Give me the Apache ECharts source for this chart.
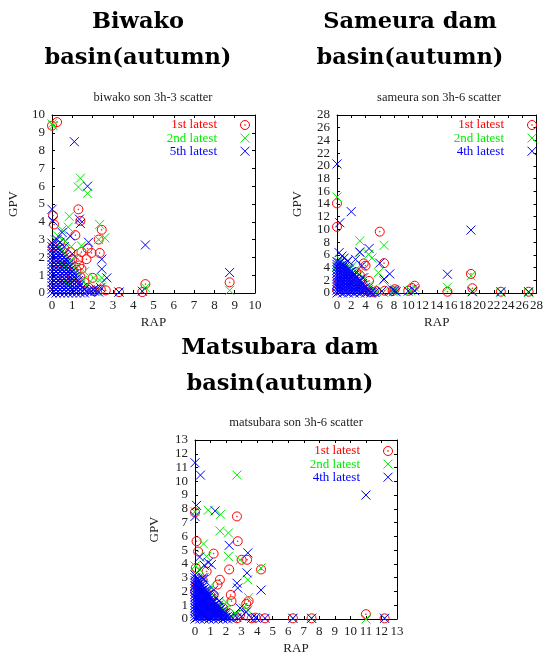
<!DOCTYPE html>
<html><head><meta charset="utf-8">
<script src="https://cdn.jsdelivr.net/npm/echarts@6/dist/echarts.min.js"></script>
<style>html,body{margin:0;padding:0;background:#fff}#c{width:546px;height:659px}</style>
</head><body><div id="c"></div><script>
// ---------------- Data (RAP, GPV) ----------------
const biwakoTitle = 'Biwako\nbasin(autumn)';
const sameuraTitle = 'Sameura dam\nbasin(autumn)';
const matsubaraTitle = 'Matsubara dam\nbasin(autumn)';
const biwakoSub = 'biwako son 3h-3 scatter';
const sameuraSub = 'sameura son 3h-6 scatter';
const matsubaraSub = 'matsubara son 3h-6 scatter';
const biwakoLegend = ['1st latest', '2nd latest', '5th latest'];
const sameuraLegend = ['1st latest', '2nd latest', '4th latest'];
const matsubaraLegend = ['1st latest', '2nd latest', '4th latest'];
const biwakoAxis = {max: 10, interval: 1};
const sameuraAxis = {max: 28, interval: 2};
const matsubaraAxis = {max: 13, interval: 1};

const biwako1st = [[0,9.4],[0.25,9.6],[0.05,4.35],[0.1,3.85],[1.3,4.7],[1.4,4.05],[1.15,3.25],[2.45,3.55],[2.3,3.0],
 [1.75,2.5],[1.95,2.25],[2.35,2.25],[1.45,2.3],[1.3,1.9],[1.7,1.9],[1.45,1.35],[1.35,1.55],[2.0,0.85],[0.9,2.3],[0.4,2.9],
 [2.65,0.15],[3.3,0.05],[4.45,0.05],[4.6,0.5],[8.75,0.6],[0.05,2.6],[0.6,2.5],[0.8,1.7],[1.0,1.9],[1.2,1.3],[1.0,1.0],
 [0.7,1.4],[0.3,2.2],[0.5,1.9],[1.6,0.6],[1.8,0.3],[2.1,0.1],[1.4,0.9],[0.2,1.5],[0.6,0.8],[0.1,0.4],[1.1,0.5],[2.4,0.2]];
const biwako2nd = [[0,9.5],[0.05,9.4],[1.4,6.45],[1.3,5.95],[1.75,5.6],[0.85,4.3],[0.8,3.7],[2.35,3.85],[2.6,3.1],[2.3,3.0],
 [0.5,3.55],[0.3,3.2],[1.45,2.65],[2.05,0.85],[2.45,0.6],[2.45,0.85],[4.6,0.3],[8.75,0.15],[3.3,0.05],[0.65,2.9],
 [0.3,2.7],[0.5,2.4],[0.7,2.1],[0.9,1.8],[1.1,1.4],[1.3,1.0],[1.5,0.7],[0.15,3.0],[0.6,1.5],[0.2,1.2],[0.4,0.6],
 [0,1.8],[1.7,0.4],[1.9,0.2],[2.2,0.1],[0.95,2.6],[1.2,2.0],[1.1,0.9],[0.8,0.5],[1.6,1.2]];
const biwako5th = [[1.1,8.5],[1.75,6.0],[0,4.7],[0.05,4.05],[1.35,4.15],[1.4,3.9],[4.6,2.7],[8.75,1.15],[1.8,2.85],
 [2.45,1.9],[2.45,1.35],[2.7,0.85],[0.5,3.4],[0.9,3.2],[0.4,2.85],[4.45,0.1],[3.3,0.05],[2.05,0.2],[0.25,3.0],
 [0.6,2.6],[1.0,2.2],[2.4,0.3],[1.95,0.1],[2.2,0.2]];
// dense cloud near the origin, read column by column: [RAP, [GPV values]]
const biwako5thCloud = [
 [0, [0,0.2,0.4,0.6,0.8,1.0,1.2,1.4,1.6,1.8,2.0,2.2,2.4,2.6,2.8]],
 [0.1, [0.1,0.3,0.5,0.7,0.9,1.1,1.3,1.5,1.7,1.9,2.1,2.3,2.5,2.7]],
 [0.2, [0,0.2,0.4,0.6,0.8,1.0,1.2,1.4,1.6,1.8,2.0,2.2,2.4,2.6]],
 [0.3, [0.1,0.3,0.5,0.7,0.9,1.1,1.3,1.5,1.7,1.9,2.1,2.3,2.5]],
 [0.4, [0,0.2,0.4,0.6,0.8,1.0,1.2,1.4,1.6,1.8,2.0,2.2]],
 [0.5, [0.1,0.3,0.5,0.7,0.9,1.1,1.3,1.5,1.7,1.9,2.1]],
 [0.6, [0,0.2,0.4,0.6,0.8,1.0,1.2,1.4,1.6,1.8,2.0]],
 [0.7, [0.1,0.3,0.5,0.7,0.9,1.1,1.3,1.5,1.7,1.85]],
 [0.8, [0,0.2,0.4,0.6,0.8,1.0,1.2,1.4,1.6]],
 [0.9, [0.1,0.3,0.5,0.7,0.9,1.1,1.3,1.5]],
 [1.0, [0,0.2,0.4,0.6,0.8,1.0,1.2]],
 [1.1, [0.1,0.3,0.5,0.7,0.9,1.05]],
 [1.2, [0,0.2,0.4,0.6,0.8]],
 [1.3, [0.1,0.3,0.5,0.7]],
 [1.4, [0,0.2,0.45]],
 [1.5, [0.1,0.3]],
 [1.6, [0,0.2]],
 [1.75, [0.1]],
 [1.9, [0.05]],
 [2.1, [0.1]],
 [2.3, [0.05]]
];

const sameura1st = [[0,14.1],[0,10.4],[6.0,9.65],[6.6,4.7],[3.75,4.65],[4.0,4.3],[4.5,1.9],[18.8,3.0],[19.0,0.75],
 [15.5,0.2],[10.9,1.15],[10.0,0.35],[8.1,0.6],[6.7,0.35],[4.8,0.2],[23.0,0.2],[26.9,0.2],[0,0.5],[2.7,3.3],[3.2,2.8],
 [5.5,0.3],[7.8,0.3],[10.5,0.8],[1.0,3.0],[2.0,2.6],[0.5,4.0],[1.6,2.0],[2.5,1.2],[3.5,0.8],[0.3,1.8],[4.2,0.5],[5.2,0.1]];
const sameura2nd = [[0,15.1],[3.2,8.2],[6.6,7.5],[4.45,6.1],[3.2,6.35],[5.8,3.2],[18.8,2.7],[15.5,0.9],[10.9,0.9],
 [0.1,4.8],[0.4,5.3],[8.1,0.6],[10.3,0.4],[6.5,2.0],[4.9,5.5],[2.5,3.5],[1.2,4.6],[26.9,0.1],[23.0,0.1],[19.0,0.3],
 [0,4.2],[0.8,4.2],[1.8,3.8],[3.0,3.0],[3.8,2.4],[4.5,1.2],[5.0,0.6],[2.2,4.3],[1.5,5.1],[5.6,0.2],[6.5,0.1],[7.9,0.2]];
const sameura4th = [[0,20.3],[0.4,11.05],[2.0,12.8],[18.8,9.9],[0.3,6.35],[1.55,5.05],[3.2,6.45],[4.5,7.0],[6.0,4.7],
 [3.5,4.3],[6.6,2.2],[7.4,3.0],[15.5,2.95],[10.9,0.35],[8.1,0.35],[10.0,0.3],[19.0,0.2],[23.0,0.2],[26.9,0.2],[7.8,0.5],
 [8.3,0.2],[1.0,5.5],[2.6,5.3],[0.7,5.8],[3.6,2.4],[6.3,0.3]];
const sameura4thCloud = [
 [0, [0,0.45,0.9,1.35,1.8,2.25,2.7,3.15,3.6,4.05,4.5,4.95]],
 [0.4, [0.2,0.65,1.1,1.55,2.0,2.45,2.9,3.35,3.8,4.25,4.7]],
 [0.8, [0,0.45,0.9,1.35,1.8,2.25,2.7,3.15,3.6,4.05,4.5]],
 [1.2, [0.2,0.65,1.1,1.55,2.0,2.45,2.9,3.35,3.8,4.2]],
 [1.6, [0,0.45,0.9,1.35,1.8,2.25,2.7,3.15,3.6,3.9]],
 [2.0, [0.2,0.65,1.1,1.55,2.0,2.45,2.9,3.35]],
 [2.4, [0,0.45,0.9,1.35,1.8,2.25,2.7,3.0]],
 [2.8, [0.2,0.65,1.1,1.55,2.0,2.5]],
 [3.2, [0,0.45,0.9,1.35,1.8,2.1]],
 [3.6, [0.2,0.65,1.1,1.5]],
 [4.0, [0,0.45,0.9]],
 [4.4, [0.2,0.5]],
 [4.8, [0,0.2]],
 [5.3, [0.1]]
];

const matsubara1st = [[0,7.75],[0.1,5.65],[0.2,4.9],[1.2,4.75],[2.7,7.45],[2.75,5.65],[2.2,3.6],[3.0,4.3],[3.35,4.3],
 [4.25,3.6],[3.45,1.3],[1.6,2.85],[1.45,2.5],[2.3,1.75],[2.35,1.3],[1.2,1.75],[0.75,3.45],[0.05,3.7],[2.7,0.05],
 [4.5,0.05],[6.3,0.05],[7.5,0.05],[11.0,0.35],[12.2,0.05],[3.65,0.05],[0.1,2.5],[0.5,2.8],[1.0,1.7],[1.4,1.1],
 [1.8,0.8],[2.2,0.4],[0,2.0],[1.0,0.8],[0.6,1.2],[3.3,1.1],[2.9,0.3],[3.9,0.1]];
const matsubara2nd = [[0,7.8],[0.85,7.9],[1.65,7.6],[2.7,10.45],[1.6,6.4],[2.15,6.25],[2.15,4.55],[2.9,4.3],[3.4,2.85],
 [4.25,3.7],[0.55,5.45],[0.75,4.55],[0,3.85],[3.45,1.55],[3.4,0.65],[11.0,0.0],[1.0,2.4],[0.9,2.1],[1.3,1.6],[2.0,1.2],
 [2.6,0.4],[0.3,3.6],[0.6,3.0],[12.2,0.05],[6.3,0.05],[7.5,0.05],[0.1,3.3],[1.9,0.6],[1.5,0.9],[2.3,0.2],[3.1,0.8],[0.4,2.5]];
const matsubara4th = [[0,11.35],[0.35,10.45],[0.1,8.25],[0,7.45],[1.3,7.85],[11.0,9.0],[0.85,4.1],[1.05,3.95],[2.2,5.35],
 [3.4,4.8],[3.35,3.35],[2.7,2.6],[2.75,2.25],[4.25,2.1],[1.55,1.3],[3.65,0.05],[4.5,0.05],[6.3,0.05],[7.5,0.05],
 [12.2,0.05],[0.3,4.5],[0.55,2.85],[3.3,0.5],[3.0,0.2],[3.9,0.1],[2.9,0.8],[0.5,3.0],[1.2,2.1],[0.6,3.9]];
const matsubara4thCloud = [
 [0, [0,0.2,0.4,0.6,0.8,1.0,1.2,1.4,1.6,1.8,2.0,2.2,2.4,2.6,2.8,3.0,3.2]],
 [0.15, [0.1,0.3,0.5,0.7,0.9,1.1,1.3,1.5,1.7,1.9,2.1,2.3,2.5,2.7,2.9]],
 [0.3, [0,0.2,0.4,0.6,0.8,1.0,1.2,1.4,1.6,1.8,2.0,2.2,2.4,2.6,2.8]],
 [0.45, [0.1,0.3,0.5,0.7,0.9,1.1,1.3,1.5,1.7,1.9,2.1,2.3,2.5]],
 [0.6, [0,0.2,0.4,0.6,0.8,1.0,1.2,1.4,1.6,1.8,2.0,2.2]],
 [0.75, [0.1,0.3,0.5,0.7,0.9,1.1,1.3,1.5,1.7,1.9,2.05]],
 [0.9, [0,0.2,0.4,0.6,0.8,1.0,1.2,1.4,1.6,1.8]],
 [1.05, [0.1,0.3,0.5,0.7,0.9,1.1,1.3,1.5]],
 [1.2, [0,0.2,0.4,0.6,0.8,1.0,1.2,1.35]],
 [1.35, [0.1,0.3,0.5,0.7,0.9,1.1]],
 [1.5, [0,0.2,0.4,0.6,0.8,1.0]],
 [1.65, [0.1,0.3,0.5,0.7]],
 [1.8, [0,0.2,0.4,0.6]],
 [1.95, [0.1,0.3,0.45]],
 [2.1, [0,0.2]],
 [2.25, [0.1]],
 [2.45, [0.05]],
 [2.7, [0.1]]
];

// ---------------- Styles ----------------
const SERIF = 'Liberation Serif';
const TITLEFONT = 'DejaVu Serif';
const RED = '#ff0000', GREEN = '#00ee00', BLUE = '#0000ff';
const RING = 'path://M0,-10A10,10 0 1,1 0,10A10,10 0 1,1 0,-10ZM0,-0.8A0.8,0.8 0 1,1 0,0.8A0.8,0.8 0 1,1 0,-0.8Z';
const CROSS = 'path://M0,0L10,10M0,10L10,0';

function flattenCloud(cloud) {
  const out = [];
  cloud.forEach(([x, ys]) => ys.forEach(y => out.push([x, y])));
  return out;
}

const grids = [
  {left: 52, top: 115, width: 203, height: 178},
  {left: 337, top: 115, width: 203, height: 178},
  {left: 195, top: 440, width: 202, height: 179}
];
const axisCfg = [biwakoAxis, sameuraAxis, matsubaraAxis];
const yNameGap = [32, 33, 34];

const xAxis = [], yAxis = [];
const labelBase = {show: true, fontFamily: SERIF, fontSize: 13, color: '#222',
  showMinLabel: true, showMaxLabel: true, hideOverlap: false};
const richT = {t: {fontFamily: SERIF, fontSize: 13, color: '#222', height: 9, lineHeight: 9}};
const extraY = [];
axisCfg.forEach((a, g) => {
  const common = {
    gridIndex: g, type: 'value', min: 0, max: a.max, interval: a.interval,
    axisLine: {onZero: false, lineStyle: {color: '#000', width: 1}},
    axisTick: {inside: true, length: 3, lineStyle: {color: '#000'}},
    splitLine: {show: false}
  };
  const xl = Object.assign({}, labelBase, {margin: 6});
  // dense axes (step 2 over 178px) alternate labels across two overlaid left axes
  const dense = a.interval === 2;
  const yl = Object.assign({}, labelBase, {margin: 7, rich: richT,
    formatter: v => (!dense || v % 4 === 0) ? '{t|' + v + '}' : ''});
  const nameStyle = {fontFamily: SERIF, fontSize: 13, color: '#222'};
  xAxis.push(Object.assign({}, common, {position: 'bottom', axisLabel: xl,
    name: 'RAP', nameLocation: 'middle', nameGap: 23, nameTextStyle: nameStyle}));
  xAxis.push(Object.assign({}, common, {position: 'top', axisLabel: {show: false}}));
  yAxis.push(Object.assign({}, common, {position: 'left', axisLabel: yl,
    name: 'GPV', nameLocation: 'middle', nameGap: yNameGap[g], nameTextStyle: nameStyle}));
  yAxis.push(Object.assign({}, common, {position: 'right', axisLabel: {show: false}}));
  if (dense) {
    extraY.push(Object.assign({}, common, {position: 'left', axisLine: {show: false}, axisTick: {show: false},
      axisLabel: Object.assign({}, labelBase, {margin: 7, rich: richT,
        formatter: v => (v % 4 === 2) ? '{t|' + v + '}' : ''})}));
  }
});
extraY.forEach(y => yAxis.push(y));

function mk(name, data, g, kind, color) {
  return {
    type: 'scatter', name: name, data: data, xAxisIndex: g * 2, yAxisIndex: g * 2,
    symbol: kind === 'ring' ? RING : CROSS, symbolSize: 9,
    clip: false, silent: true, large: false,
    itemStyle: {color: 'none', borderColor: color, borderWidth: 1, opacity: 1},
    emphasis: {disabled: true}
  };
}
const sets = [
  [biwakoLegend, [biwako1st, biwako2nd, biwako5th.concat(flattenCloud(biwako5thCloud))]],
  [sameuraLegend, [sameura1st, sameura2nd, sameura4th.concat(flattenCloud(sameura4thCloud))]],
  [matsubaraLegend, [matsubara1st, matsubara2nd, matsubara4th.concat(flattenCloud(matsubara4thCloud))]]
];
const colors = [RED, GREEN, BLUE];
const kinds = ['ring', 'cross', 'cross'];
const series = [];
sets.forEach(([names, datas], g) => {
  datas.forEach((d, i) => series.push(mk(names[i], d, g, kinds[i], colors[i])));
});

const legendPos = [{right: 294, top: 118}, {right: 7, top: 118}, {right: 151, top: 444}];
const legend = sets.map(([names], g) => Object.assign({
  orient: 'vertical', align: 'right', itemWidth: 46, itemHeight: 9, itemGap: -0.9,
  selectedMode: false, padding: 0,
  textStyle: {fontFamily: SERIF, fontSize: 13, lineHeight: 10},
  data: names.map((n, i) => ({
    name: n, icon: kinds[i] === 'ring' ? RING : CROSS,
    itemStyle: {color: 'none', borderColor: colors[i], borderWidth: 1},
    textStyle: {color: colors[i]}
  }))
}, legendPos[g]));

const bigTitle = (text, x, top) => ({
  text: text, left: x, top: top, textAlign: 'center', padding: 0,
  textStyle: {fontFamily: TITLEFONT, fontWeight: 'bold', fontSize: 22.5, lineHeight: 36, color: '#000'}
});
const subTitle = (text, x, top) => ({
  text: text, left: x, top: top, textAlign: 'center', padding: 0,
  textStyle: {fontFamily: SERIF, fontWeight: 'normal', fontSize: 12.5, lineHeight: 13, color: '#222'}
});

const chart = echarts.init(document.getElementById('c'), null, {renderer: 'canvas'});
chart.setOption({
  animation: false,
  backgroundColor: '#fff',
  title: [
    bigTitle(biwakoTitle, 138, 4), bigTitle(sameuraTitle, 410, 4), bigTitle(matsubaraTitle, 280, 330),
    subTitle(biwakoSub, 153, 91), subTitle(sameuraSub, 439, 91), subTitle(matsubaraSub, 296, 416)
  ],
  grid: grids,
  xAxis: xAxis,
  yAxis: yAxis,
  legend: legend,
  series: series
});
</script></body></html>
